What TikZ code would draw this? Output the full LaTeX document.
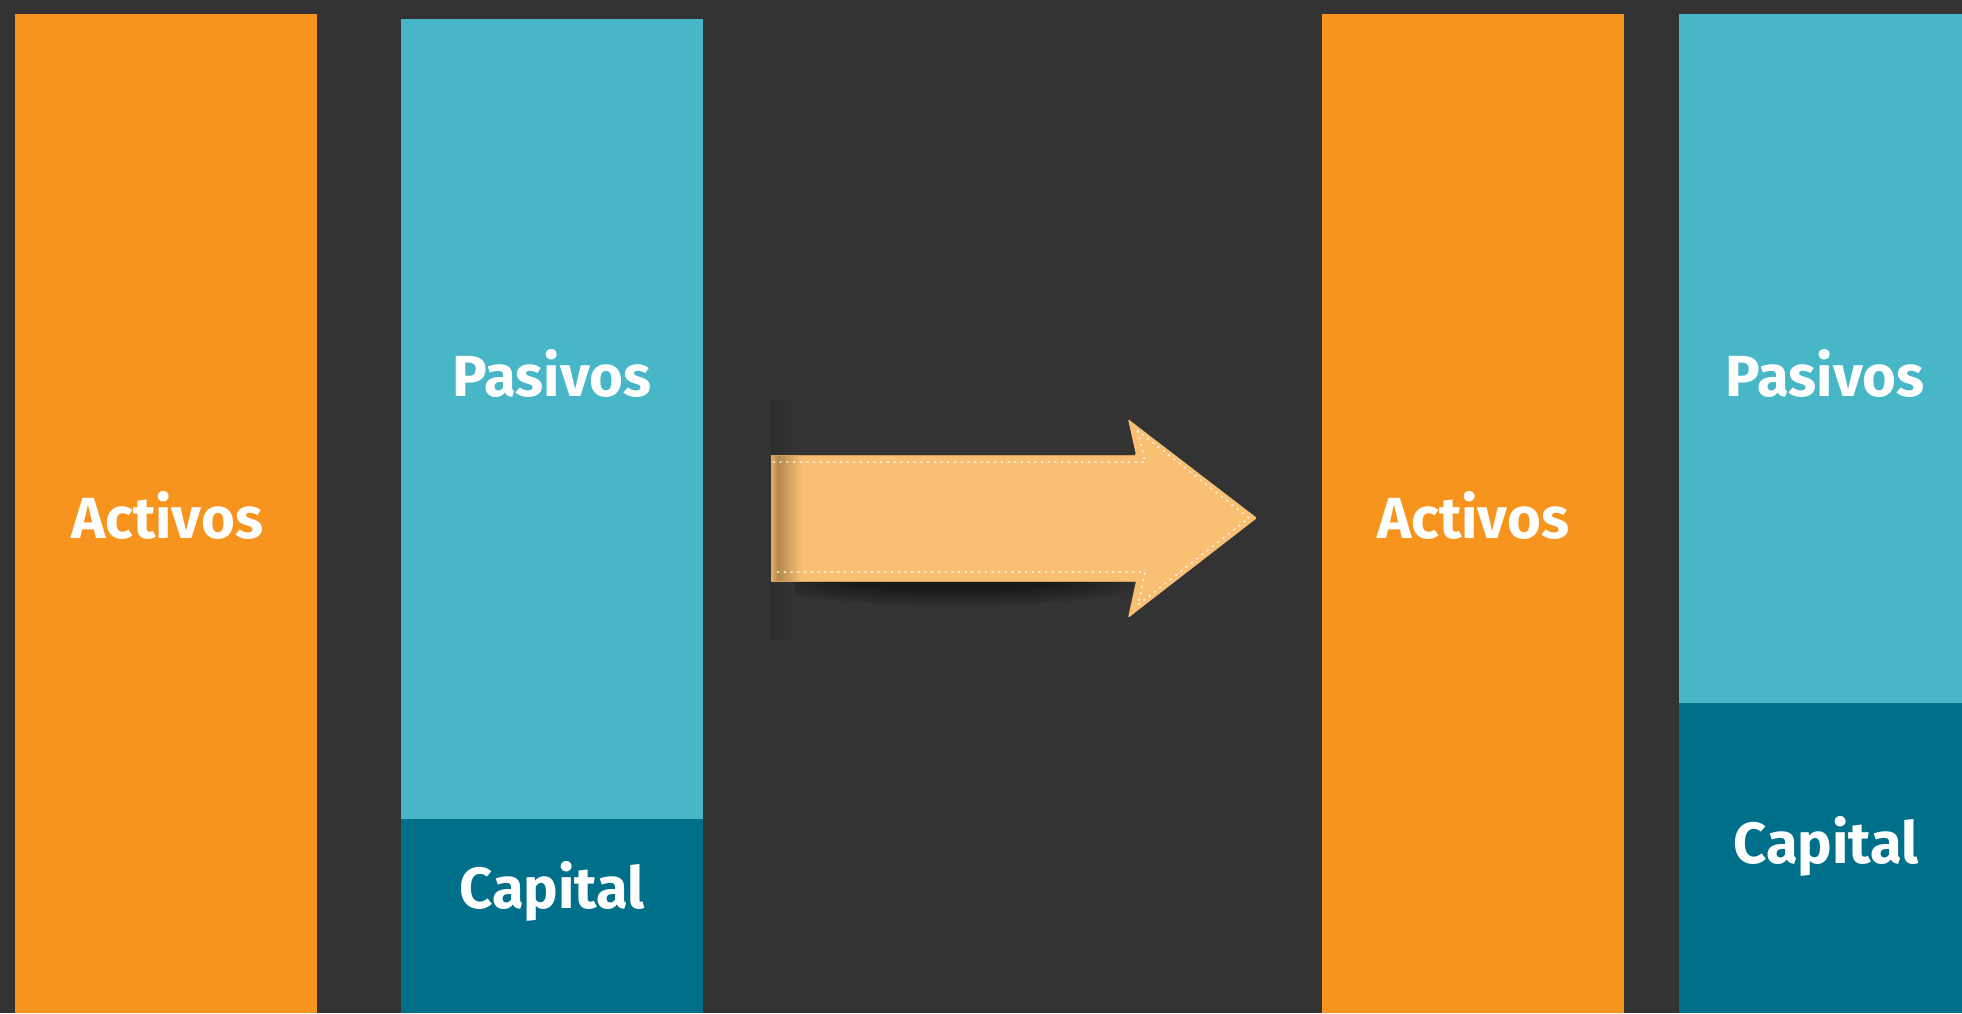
\documentclass[tikz,border=0pt]{standalone}
\usepackage{fontspec}
\setmainfont{Fira Sans}
\usetikzlibrary{calc}
\definecolor{bg}{HTML}{333333}
\definecolor{orangebar}{HTML}{F7941E}
\definecolor{tealbar}{HTML}{47B7C8}
\definecolor{darkteal}{HTML}{00708A}
\definecolor{arrowfill}{HTML}{F9C074}
\definecolor{arrowedge}{HTML}{D3A05E}
\definecolor{arrowdark}{HTML}{B4884F}
\definecolor{shadowstrip}{HTML}{2E2E2E}
\tikzset{
  label/.style={text=white, font=\fontsize{58}{58}\selectfont\bfseries, anchor=base, inner sep=0pt},
  dots/.style={white, opacity=0.85, line width=1.5pt, dash pattern=on 2pt off 4.7pt},
}
\begin{document}
\begin{tikzpicture}[x=1pt,y=-1pt]
\useasboundingbox (0,0) rectangle (1962,1013);
\fill[bg] (0,0) rectangle (1962,1013);
% bars
\fill[orangebar] (15,14) rectangle (317,1013);
\fill[tealbar] (401,19) rectangle (703,819);
\fill[darkteal] (401,819) rectangle (703,1013);
\fill[orangebar] (1322,14) rectangle (1624,1013);
\fill[tealbar] (1679,14) rectangle (1962,703);
\fill[darkteal] (1679,703) rectangle (1962,1013);
% labels
\node[label] (act1) at (167,538) {Activos};
\node[label] (pas1) at (552,396) {Pasivos};
\node[label] (cap1) at (552,908) {Capital};
\node[label] (act2) at (1473,538) {Activos};
\node[label] (pas2) at (1825,396) {Pasivos};
\node[label] (cap2) at (1826,863) {Capital};
% arrow shadow
\foreach \k in {1,...,12}{
  \fill[black, opacity=0.045] (955,584) ellipse ({195-8*\k} and {24-1.6*\k});
}
\shade[left color=shadowstrip, right color=bg] (771,400) rectangle (795,455);
\shade[left color=shadowstrip, right color=bg] (771,581) rectangle (795,640);
% arrow
\fill[arrowfill, rounded corners=1.5pt] (771,455) -- (1136,455) -- (1128,419) -- (1257,518) -- (1128,618) -- (1136,581) -- (771,581) -- cycle;
\shade[left color=arrowdark, right color=arrowfill] (778,455) rectangle (802,581);
\shade[left color=arrowfill!70!arrowdark, right color=arrowdark] (771,455) rectangle (778,581);
\draw[arrowedge, line width=1pt] (771,455) -- (1136,455);
\draw[arrowedge, line width=1pt] (771,581) -- (1136,581);
\draw[dots] (773,462) -- (1145,462) -- (1138,431) -- (1249,518) -- (1138,605) -- (1145,572) -- (773,572);
\end{tikzpicture}
\end{document}
